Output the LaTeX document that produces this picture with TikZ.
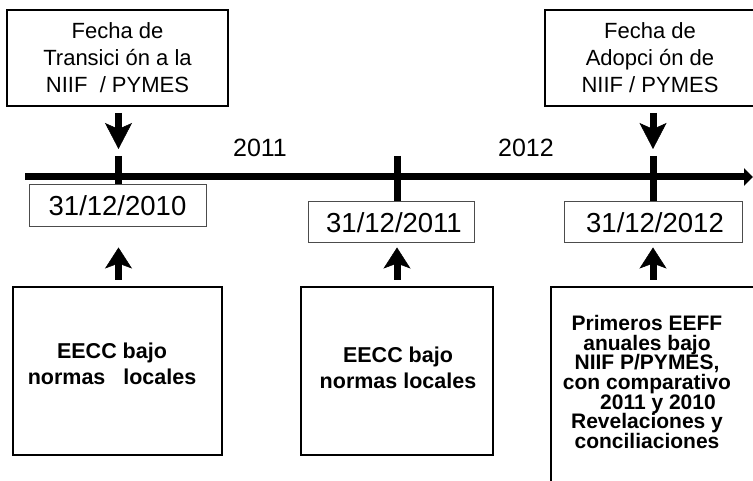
\documentclass[tikz,border=0pt]{standalone}
\usepackage{fontspec}
\setmainfont{Liberation Sans}
\usetikzlibrary{arrows.meta}
\begin{document}
\begin{tikzpicture}[x=1pt,y=-1pt,
  topbox/.style={draw=black, line width=2pt, font=\fontsize{22}{27}\selectfont, align=center, inner sep=0pt},
  datebox/.style={draw=black!70, line width=1pt, font=\fontsize{27.5}{30}\selectfont, inner sep=0pt},
  lowbox/.style={draw=black, line width=2pt, inner sep=0pt},
  lowtext/.style={font=\fontsize{21.5}{26}\bfseries\selectfont, align=center, inner sep=0pt},
  yearlabel/.style={font=\fontsize{25}{30}\selectfont, inner sep=0pt},
  tickline/.style={line width=7pt},
  downarrow/.style={line width=7pt, -{Stealth[width=27pt,length=26pt,inset=6pt,line width=0.5pt]}},
  uparrow/.style={line width=7pt, -{Stealth[width=27pt,length=21pt,inset=5pt,line width=0.5pt]}},
]
\clip (0,0) rectangle (753,481);
\fill[white] (0,0) rectangle (753,481);

% top boxes
\node[topbox, minimum width=221pt, minimum height=96pt] (f1) at (117.5,58) {Fecha de\\Transici ón a la\\NIIF\ \ / PYMES};
\node[topbox, minimum width=210pt, minimum height=96pt] (f2) at (650,58) {Fecha de\\Adopci ón de\\NIIF / PYMES};

% year labels
\node[yearlabel] (y1) at (260,148) {2011};
\node[yearlabel] (y2) at (526,148) {2012};

% timeline
\coordinate (L) at (25,177);
\coordinate (R) at (753,177);
\draw[line width=7pt, -{Triangle[width=17pt,length=9pt]}] (L) -- (R);

% date boxes
\node[datebox, minimum width=177pt, minimum height=42pt] (d1) at (117.5,206) {31/12/2010};
\node[datebox, minimum width=166pt, minimum height=41pt] (d2) at (391,222.5) {\hspace{6pt}31/12/2011};
\node[datebox, minimum width=178pt, minimum height=41pt] (d3) at (653,222.5) {\hspace{4pt}31/12/2012};

% ticks
\coordinate (k1) at (118.5,156);
\coordinate (k2) at (397,156);
\coordinate (k3) at (653,156);
\draw[tickline] (k1) -- (k1 |- d1.north);
\draw[tickline] (k2) -- (k2 |- d2.north);
\draw[tickline] (k3) -- (k3 |- d3.north);

% down arrows
\draw[downarrow, shorten <=6pt, shorten >=7pt] (f1.south -| k1) -- (k1);
\draw[downarrow, shorten <=6pt, shorten >=7pt] (f2.south -| k3) -- (k3);

% bottom boxes
\node[lowbox, minimum width=209pt, minimum height=168pt] (b1) at (117.5,371) {};
\node[lowbox, minimum width=192pt, minimum height=168pt] (b2) at (397,371) {};
\node[lowbox, minimum width=220pt, minimum height=220pt] (b3) at (661,397) {};

\node[lowtext] (t1) at (112,364) {EECC bajo\\normas\ \ \ locales};
\node[lowtext] (t2) at (398,368) {EECC bajo\\normas locales};
\node[lowtext, font=\fontsize{21}{19.6}\bfseries\selectfont] (t3) at (647,382) {Primeros EEFF\\anuales bajo\\NIIF P/PYMES,\\con comparativo\\\hspace*{22pt}2011 y 2010\\Revelaciones y\\conciliaciones};

% up arrows
\draw[uparrow, shorten <=6pt, shorten >=20pt] (b1.north -| k1) -- (k1 |- d1.south);
\draw[uparrow, shorten <=6pt, shorten >=4pt] (b2.north -| k2) -- (k2 |- d2.south);
\draw[uparrow, shorten <=6pt, shorten >=4pt] (b3.north -| k3) -- (k3 |- d3.south);
\end{tikzpicture}
\end{document}
